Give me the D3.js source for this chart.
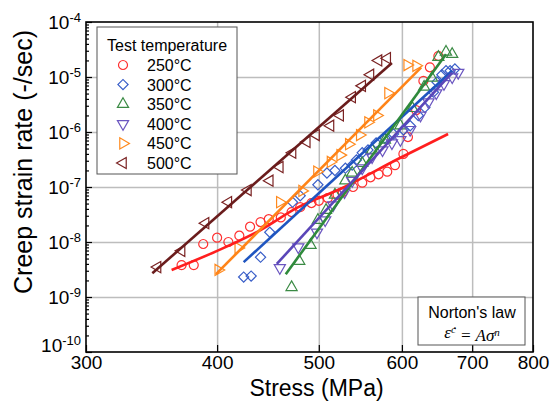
<!DOCTYPE html>
<html lang="en">
  <head>
    <meta charset="UTF-8" />
    <title>creep-strain-rate</title>
    <style>
      body {
        margin: 0;
        background: #fff;
        font-family: "Liberation Sans", Arial, sans-serif;
      }
      svg {
        display: block;
      }
      .grid line {
        stroke: #bdbdbd;
        stroke-width: 1.5;
      }
      .grid path {
        display: none;
      }
      .axis path {
        display: none;
      }
      .axis line {
        stroke: #000;
        stroke-width: 1.2;
      }
      .tick-label {
        font-size: 19px;
        fill: #000;
      }
      .legend-text {
        font-size: 16px;
      }
    </style>
  </head>
  <body>
    <script src="https://cdn.jsdelivr.net/npm/d3@7"></script>
    <script>
      // --- data ---
      const temps = ["250°C", "300°C", "350°C", "400°C", "450°C", "500°C"];

      const stress250 = [370, 380, 388, 400, 410, 420, 430, 440, 448, 460, 471, 480, 492, 500, 510, 521, 527, 539, 550, 560, 570, 581, 591, 602, 608, 619, 629, 638, 650];
      const rate250 = [3.8e-9, 3.8e-9, 9.2e-9, 1.2e-8, 1.0e-8, 1.3e-8, 1.9e-8, 2.3e-8, 2.6e-8, 2.8e-8, 3.5e-8, 4.3e-8, 5.1e-8, 5.6e-8, 6.3e-8, 7.2e-8, 8.1e-8, 1.0e-7, 1.2e-7, 1.5e-7, 1.7e-7, 1.9e-7, 2.5e-7, 4.0e-7, 8.1e-7, 2.5e-6, 8.5e-6, 1.5e-5, 2.4e-5];
      const fitStress250 = [362, 400, 440, 477, 524, 598, 664];
      const fitRate250 = [3.1e-9, 6.9e-9, 1.65e-8, 4.2e-8, 9.2e-8, 3.4e-7, 9.2e-7];

      const stress300 = [424, 431, 440, 449, 472, 480, 499, 509, 518, 530, 538, 543, 550, 557, 567, 578, 589, 602, 611, 622, 631, 643, 648, 655, 661, 667, 674];
      const rate300 = [2.3e-9, 2.4e-9, 5.3e-9, 1.5e-8, 5.3e-8, 6.9e-8, 1.1e-7, 1.8e-7, 2.0e-7, 2.2e-7, 2.5e-7, 3.1e-7, 4.2e-7, 4.7e-7, 6.3e-7, 7.8e-7, 9.2e-7, 1.1e-6, 1.3e-6, 2.0e-6, 2.8e-6, 5.3e-6, 8.1e-6, 1.1e-5, 1.3e-5, 1.3e-5, 1.4e-5];
      const fitStress300 = [424, 670];
      const fitRate300 = [4.3e-9, 1.3e-5];

      const stress350 = [471, 479, 491, 499, 508, 518, 530, 538, 550, 562, 578, 598, 614, 630, 641, 650, 661, 670];
      const rate350 = [1.5e-9, 4.5e-9, 8.8e-9, 2.5e-8, 3.8e-8, 7.2e-8, 1.3e-7, 1.8e-7, 2.7e-7, 4.7e-7, 7.2e-7, 1.3e-6, 2.7e-6, 6.6e-6, 9.6e-6, 2.3e-5, 2.85e-5, 2.6e-5];
      const fitStress350 = [465, 661];
      const fitRate350 = [2.6e-9, 2.6e-5];

      const stress400 = [459, 478, 498, 507, 516, 529, 538, 550, 562, 575, 587, 598, 611, 625, 636, 647, 658, 670, 679];
      const rate400 = [3.4e-9, 8.1e-9, 1.5e-8, 2.5e-8, 4.7e-8, 8.1e-8, 1.3e-7, 2.2e-7, 3.5e-7, 4.7e-7, 6.3e-7, 7.2e-7, 1.1e-6, 2.0e-6, 3.5e-6, 5.1e-6, 7.5e-6, 1.0e-5, 1.2e-5];
      const fitStress400 = [456, 670];
      const fitRate400 = [4.0e-9, 1.2e-5];

      const stress450 = [401, 419, 459, 482, 498, 513, 524, 534, 547, 557, 568, 582, 607, 619];
      const rate450 = [3.1e-9, 7.8e-9, 5.3e-8, 8.5e-8, 1.9e-7, 2.85e-7, 3.8e-7, 6.0e-7, 8.8e-7, 1.5e-6, 2.0e-6, 5.1e-6, 1.65e-5, 1.6e-5];
      const fitStress450 = [399, 626];
      const fitRate450 = [2.6e-9, 1.5e-5];

      const stress500 = [351, 370, 390, 410, 428, 449, 459, 472, 487, 497, 513, 524, 538, 550, 560, 570, 581];
      const rate500 = [3.5e-9, 6.9e-9, 2.2e-8, 5.3e-8, 8.8e-8, 1.3e-7, 2.3e-7, 4.2e-7, 6.6e-7, 8.8e-7, 1.3e-6, 2.0e-6, 4.3e-6, 6.9e-6, 1.1e-5, 2.0e-5, 2.2e-5];
      const fitStress500 = [347, 587];
      const fitRate500 = [2.7e-9, 1.8e-5];

      const xTicks = [300, 400, 500, 600, 700, 800];
      const yExponents = [-10, -9, -8, -7, -6, -5, -4];

      // --- styling per series ---
      const markerColors = ["#ff3030", "#3a5fc8", "#3a8a44", "#6a55c0", "#ff8a1e", "#7a2222"];
      const lineColors = ["#ff1e1e", "#1f55c0", "#2f8a3c", "#5a46b8", "#ff8418", "#6a1c1c"];
      const shapes = ["circle", "diamond", "up", "down", "right", "left"];

      const series = [
        { s: stress250, r: rate250, fs: fitStress250, fr: fitRate250 },
        { s: stress300, r: rate300, fs: fitStress300, fr: fitRate300 },
        { s: stress350, r: rate350, fs: fitStress350, fr: fitRate350 },
        { s: stress400, r: rate400, fs: fitStress400, fr: fitRate400 },
        { s: stress450, r: rate450, fs: fitStress450, fr: fitRate450 },
        { s: stress500, r: rate500, fs: fitStress500, fr: fitRate500 }
      ].map((d, i) => ({
        name: temps[i],
        color: markerColors[i],
        lineColor: lineColors[i],
        shape: shapes[i],
        points: d.s.map((v, j) => [v, d.r[j]]),
        fit: d.fs.map((v, j) => [v, d.fr[j]])
      }));

      const W = 550;
      const H = 403;
      const plotLeft = 86;
      const plotRight = 533;
      const plotTop = 22;
      const plotBottom = 352;

      const x = d3.scaleLog().domain([300, 800]).range([plotLeft, plotRight]);
      const y = d3.scaleLog().domain([1e-10, 1e-4]).range([plotBottom, plotTop]);

      const svg = d3.select("body").append("svg").attr("width", W).attr("height", H);

      // grid
      svg
        .append("g")
        .attr("class", "grid")
        .attr("transform", `translate(0,${plotBottom})`)
        .call(d3.axisBottom(x).tickValues(xTicks.slice(1, -1)).tickSize(-(plotBottom - plotTop)).tickFormat(""));
      svg
        .append("g")
        .attr("class", "grid")
        .attr("transform", `translate(${plotLeft},0)`)
        .call(
          d3
            .axisLeft(y)
            .tickValues(yExponents.slice(1, -1).map(e => Math.pow(10, e)))
            .tickSize(-(plotRight - plotLeft))
            .tickFormat("")
        );

      // minor ticks on the left axis
      const minor = [];
      yExponents.slice(0, -1).forEach(e => {
        for (let k = 2; k <= 9; k++) minor.push(k * Math.pow(10, e));
      });
      svg
        .append("g")
        .attr("class", "axis")
        .attr("transform", `translate(${plotLeft},0)`)
        .call(d3.axisLeft(y).tickValues(minor).tickSize(-3).tickFormat(""));

      // left axis with major ticks and 10^n labels
      const yAxis = svg
        .append("g")
        .attr("class", "axis")
        .attr("transform", `translate(${plotLeft},0)`)
        .call(
          d3
            .axisLeft(y)
            .tickValues(yExponents.map(e => Math.pow(10, e)))
            .tickSize(-6)
            .tickPadding(4)
            .tickFormat("")
        );
      yAxis
        .selectAll(".tick text")
        .attr("class", "tick-label")
        .attr("x", -5)
        .attr("y", (d, i) => (i === 0 ? -7 : 0))
        .attr("dy", "0.35em")
        .attr("text-anchor", "end")
        .each(function (d) {
          const t = d3.select(this);
          t.append("tspan").text("10");
          t.append("tspan")
            .attr("dy", "-0.55em")
            .style("font-size", "13px")
            .text(Math.round(Math.log10(d)));
        });

      // bottom axis
      const xAxis = svg
        .append("g")
        .attr("class", "axis")
        .attr("transform", `translate(0,${plotBottom})`)
        .call(d3.axisBottom(x).tickValues(xTicks).tickSize(-7).tickPadding(5).tickFormat(d3.format("d")));
      xAxis.selectAll(".tick text").attr("class", "tick-label").attr("y", 17).attr("dy", "0");

      // frame
      svg
        .append("rect")
        .attr("x", plotLeft)
        .attr("y", plotTop)
        .attr("width", plotRight - plotLeft)
        .attr("height", plotBottom - plotTop)
        .attr("fill", "none")
        .attr("stroke", "#000")
        .attr("stroke-width", 1.6);

      // marker paths
      function markerPath(shape) {
        if (shape === "circle") return d3.symbol(d3.symbolCircle, 64)();
        if (shape === "diamond") return d3.symbol(d3.symbolSquare, 52)();
        return d3.symbol(d3.symbolTriangle, 54)();
      }
      function markerRotate(shape) {
        return { circle: 0, diamond: 45, up: 0, down: 180, right: 90, left: -90 }[shape];
      }

      // markers
      series.forEach(sr => {
        svg
          .append("g")
          .selectAll("path")
          .data(sr.points)
          .enter()
          .append("path")
          .attr("d", markerPath(sr.shape))
          .attr("transform", d => `translate(${x(d[0])},${y(d[1])}) rotate(${markerRotate(sr.shape)})`)
          .attr("fill", "none")
          .attr("stroke", sr.color)
          .attr("stroke-width", 1.2);
      });

      // fit lines
      const line = d3
        .line()
        .x(d => x(d[0]))
        .y(d => y(d[1]))
        .curve(d3.curveMonotoneX);
      series.forEach(sr => {
        svg
          .append("path")
          .datum(sr.fit)
          .attr("d", line)
          .attr("fill", "none")
          .attr("stroke", sr.lineColor)
          .attr("stroke-width", 2.6);
      });

      // legend
      const legend = svg.append("g");
      legend
        .append("rect")
        .attr("x", 97)
        .attr("y", 27)
        .attr("width", 140)
        .attr("height", 147)
        .attr("fill", "#fff")
        .attr("stroke", "#555")
        .attr("stroke-width", 1);
      legend
        .append("text")
        .attr("class", "legend-text")
        .attr("x", 107)
        .attr("y", 51)
        .text("Test temperature");
      const items = legend
        .selectAll(".item")
        .data(series)
        .enter()
        .append("g")
        .attr("class", "item")
        .attr("transform", (d, i) => `translate(123,${65 + i * 19.6})`);
      items
        .append("path")
        .attr("d", d => markerPath(d.shape))
        .attr("transform", d => `rotate(${markerRotate(d.shape)})`)
        .attr("fill", "none")
        .attr("stroke", d => d.color)
        .attr("stroke-width", 1.2);
      items
        .append("text")
        .attr("class", "legend-text")
        .attr("x", 24)
        .attr("y", 6)
        .text(d => d.name);

      // Norton's law box
      const note = svg.append("g");
      note
        .append("rect")
        .attr("x", 418)
        .attr("y", 297)
        .attr("width", 107)
        .attr("height", 48)
        .attr("fill", "#fff")
        .attr("stroke", "#555")
        .attr("stroke-width", 1);
      note
        .append("text")
        .attr("class", "legend-text")
        .attr("x", 472)
        .attr("y", 318)
        .attr("text-anchor", "middle")
        .text("Norton's law");
      const eq = note
        .append("text")
        .attr("x", 472)
        .attr("y", 338)
        .attr("text-anchor", "middle")
        .style("font-family", "'Liberation Serif', 'Times New Roman', serif")
        .style("font-style", "italic")
        .style("font-size", "17px");
      eq.append("tspan").text("\u03B5\u0307");
      eq.append("tspan").attr("dy", "-0.5em").style("font-size", "11px").text("c");
      eq.append("tspan").attr("dy", "0.5em").text(" = A\u03C3");
      eq.append("tspan").attr("dy", "-0.5em").style("font-size", "11px").text("n");

      // axis titles
      svg
        .append("text")
        .attr("x", (plotLeft + plotRight) / 2 + 7)
        .attr("y", 396)
        .attr("text-anchor", "middle")
        .style("font-size", "23px")
        .text("Stress (MPa)");
      svg
        .append("text")
        .attr("transform", `translate(32,${162}) rotate(-90)`)
        .attr("text-anchor", "middle")
        .style("font-size", "25px")
        .text("Creep strain rate (-/sec)");
    </script>
  </body>
</html>
